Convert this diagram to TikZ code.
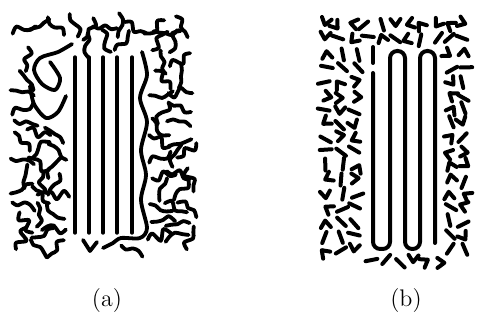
\documentclass[tikz,border=0pt]{standalone}
\usetikzlibrary{positioning}

\tikzset{
  rod/.style={line width=1.7pt, line cap=round},
  chain/.style={line width=1.9pt, line cap=round, line join=round},
  bit/.style={line width=2pt, line cap=round, line join=round},
}

% a wiggly chain round a grid point
\newcommand{\chainat}[2]{%
  \pgfmathsetmacro\ja{#1+6*rnd-3}
  \pgfmathsetmacro\jb{#2+6*rnd-3}
  \pgfmathsetmacro\ra{360*rnd}
  \pgfmathsetmacro\pa{12*rnd-6}
  \pgfmathsetmacro\pb{12*rnd-6}
  \pgfmathsetmacro\pc{12*rnd-6}
  \begin{scope}[shift={(\ja,\jb)}, rotate=\ra]
    \draw[chain] plot[smooth] coordinates {(-12,0) (-6,\pa) (0,\pb) (6,\pc) (12,1)};
  \end{scope}}

% a short bit (dash or kink) round a grid point
\newcommand{\bitat}[2]{%
  \pgfmathsetmacro\ja{#1+5*rnd-2.5}
  \pgfmathsetmacro\jb{#2+5*rnd-2.5}
  \pgfmathsetmacro\ra{360*rnd}
  \pgfmathsetmacro\kb{rnd}
  \begin{scope}[shift={(\ja,\jb)}, rotate=\ra]
    \ifdim\kb pt<0.5pt
      \draw[bit] (-6,0) -- (6,0);
    \else
      \draw[bit] (-5,4) -- (0,-3) -- (5,4);
    \fi
  \end{scope}}

\begin{document}
\begin{tikzpicture}[x=0.5pt, y=-0.5pt, font=\large]
  \useasboundingbox (0,0) rectangle (488,326);
  \pgfmathsetseed{5}

  % (a) melt with parallel rods
  \foreach \x in {75,89,103,117,132}
    \draw[rod] (\x,57) -- (\x,233);
  \draw[chain] plot[smooth] coordinates {(142,52) (147,75) (140,98) (147,122)
    (141,150) (146,175) (141,200) (147,228) (140,238) (121,238) (113,243) (103,248)};
  \draw[chain] plot[smooth] coordinates {(72,44) (58,52) (40,58) (34,70) (42,84)
    (55,90) (60,78) (50,62)};
  \draw[chain] plot[smooth] coordinates {(30,86) (34,104) (46,118) (58,112) (66,96)};
  \draw[chain] (83,240) -- (90,251) -- (97,242);

  \foreach \gx in {24,40,56,72,88,104,120,136,152,168,184}
    {\chainat{\gx}{27}}
  \foreach \gx in {88,104,120,160,176}
    {\chainat{\gx}{43}}
  \foreach \gx in {24} \foreach \gy in {62,78,...,246}
    {\chainat{\gx}{\gy}}
  \foreach \gx in {40,56} \foreach \gy in {134,150,...,246}
    {\chainat{\gx}{\gy}}
  \foreach \gx in {162,178} \foreach \gy in {62,78,...,246}
    {\chainat{\gx}{\gy}}
  \foreach \gx in {190} \foreach \gy in {150,180,...,246}
    {\chainat{\gx}{\gy}}
  \chainat{130}{252}

  % (b) folded chain among short bits
  \draw[rod, line width=2pt, rounded corners=3.6pt] (373,73) -- (373,249) -- (390,249)
    -- (390,51) -- (405,51) -- (405,249) -- (420,249) -- (420,51) -- (435,51) -- (435,243);
  \draw[rod, line width=2pt] (373,47) -- (373,63);

  \foreach \gx in {324,338,...,464}
    {\bitat{\gx}{24}}
  \foreach \gx in {324,338,...,464}
    {\bitat{\gx}{38}}
  \foreach \gx in {326,341,356} \foreach \gy in {54,68,...,250}
    {\bitat{\gx}{\gy}}
  \foreach \gx in {450,464} \foreach \gy in {54,68,...,250}
    {\bitat{\gx}{\gy}}
  \foreach \gx in {370,384,...,440}
    {\bitat{\gx}{261}}

  \node (la) at (107,301) {(a)};
  \node (lb) at (406,301) {(b)};
\end{tikzpicture}
\end{document}
